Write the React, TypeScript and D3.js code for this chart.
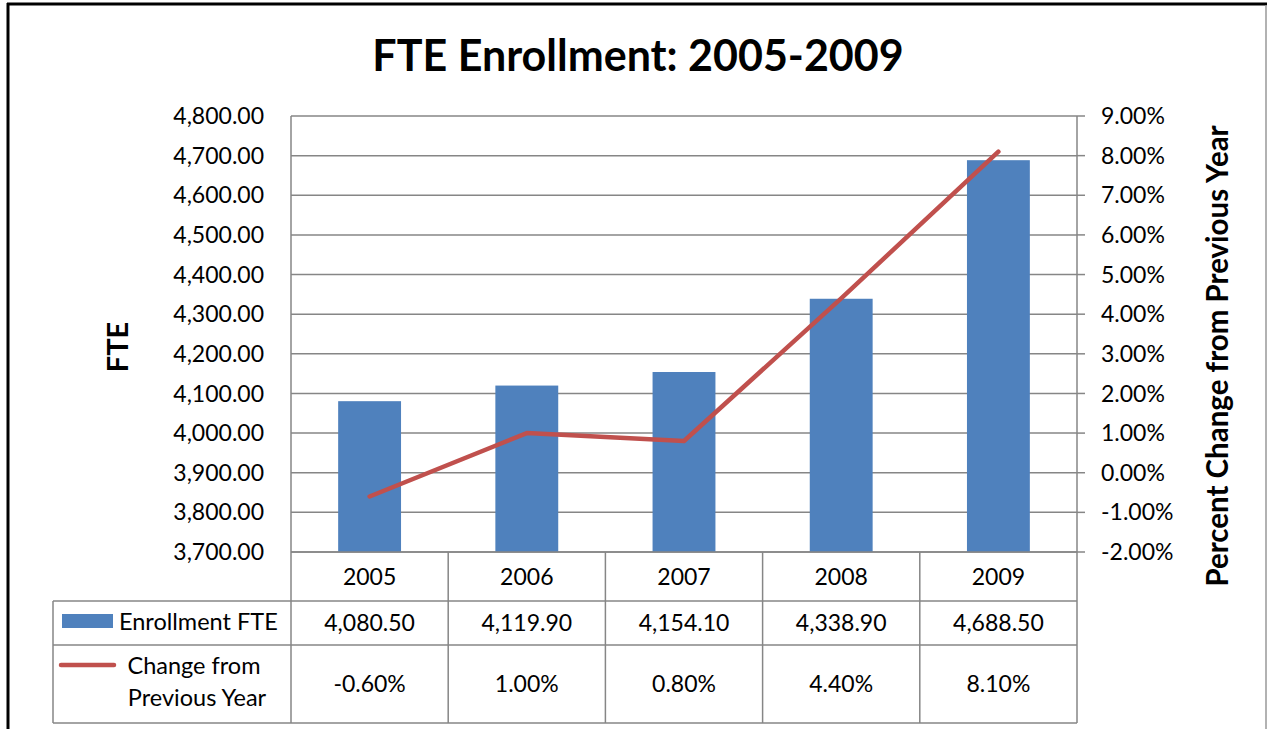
import React from "react";
import * as d3 from "d3";

const years = ["2005", "2006", "2007", "2008", "2009"];
const enrollment = [4080.5, 4119.9, 4154.1, 4338.9, 4688.5];
const pctChange = [-0.6, 1.0, 0.8, 4.4, 8.1];
const leftTicks = [3700, 3800, 3900, 4000, 4100, 4200, 4300, 4400, 4500, 4600, 4700, 4800];
const rightTicks = [-2, -1, 0, 1, 2, 3, 4, 5, 6, 7, 8, 9];
const seriesNames = ["Enrollment FTE", "Change from", "Previous Year"];
const title = "FTE Enrollment: 2005-2009";
const leftTitle = "FTE";
const rightTitle = "Percent Change from Previous Year";

const W = 1267;
const H = 729;
const plotL = 291, plotR = 1077, plotT = 116, plotB = 552;
const tableL = 53;
const row1B = 601, row2B = 645, row3B = 723;
const BLUE = "#4F81BD";
const RED = "#C0504D";
const GRID = "#868686";
const FONT = "Lato, 'Open Sans', sans-serif";

export default function App() {
  const x = d3.scaleBand<string>().domain(years).range([plotL, plotR]).paddingInner(0).paddingOuter(0);
  const yL = d3.scaleLinear().domain([3700, 4800]).range([plotB, plotT]);
  const yR = d3.scaleLinear().domain([-2, 9]).range([plotB, plotT]);
  const bw = x.bandwidth();
  const barW = bw * 0.4;
  const fmtL = d3.format(",.2f");
  const fmtP = (v: number) => d3.format(".2f")(v).replace("\u2212", "-") + "%";
  const line = d3
    .line<number>()
    .x((_, i) => (x(years[i]) as number) + bw / 2)
    .y((d) => yR(d));

  const fs = 23;

  return (
    <svg width={W} height={H} style={{ position: "absolute", left: 0, top: 0, background: "#fff" }} fontFamily={FONT}>
      <rect x={0} y={0} width={W} height={H} fill="#fff" />
      {/* frame */}
      <line x1={8} y1={3} x2={8} y2={H} stroke="#000" strokeWidth={3} />
      <line x1={7} y1={4} x2={W} y2={4} stroke="#000" strokeWidth={3} />
      <line x1={1266} y1={5} x2={1266} y2={H} stroke="#999" strokeWidth={1.5} />

      <text x={638} y={71} textAnchor="middle" fontSize={43} fontWeight="bold" fill="#000">{title}</text>

      {/* gridlines */}
      {leftTicks.map((t) => (
        <line key={"g" + t} x1={plotL} x2={plotR} y1={yL(t)} y2={yL(t)} stroke={GRID} strokeWidth={1.5} />
      ))}
      {rightTicks.map((t) => (
        <line key={"rt" + t} x1={plotR} x2={plotR + 8} y1={yR(t)} y2={yR(t)} stroke={GRID} strokeWidth={1.5} />
      ))}
      <line x1={plotL} x2={plotL} y1={plotT} y2={row3B} stroke={GRID} strokeWidth={1.5} />
      <line x1={plotR} x2={plotR} y1={plotT} y2={row3B} stroke={GRID} strokeWidth={1.5} />

      {/* bars */}
      {enrollment.map((v, i) => (
        <rect key={"b" + i} x={(x(years[i]) as number) + bw / 2 - barW / 2} y={yL(v)} width={barW} height={plotB - yL(v)} fill={BLUE} />
      ))}

      {/* line */}
      <path d={line(pctChange) || ""} fill="none" stroke={RED} strokeWidth={4.5} strokeLinejoin="round" strokeLinecap="round" />

      {/* tick labels */}
      {leftTicks.map((t) => (
        <text key={"l" + t} x={264} y={yL(t)} dy="0.35em" textAnchor="end" fontSize={fs} fill="#000">{fmtL(t)}</text>
      ))}
      {rightTicks.map((t) => (
        <text key={"r" + t} x={1101} y={yR(t)} dy="0.35em" textAnchor="start" fontSize={fs} fill="#000">{fmtP(t)}</text>
      ))}

      <text transform={`translate(128,347) rotate(-90)`} textAnchor="middle" fontSize={29} fontWeight="bold" fill="#000">{leftTitle}</text>
      <text transform={`translate(1228,356) rotate(-90)`} textAnchor="middle" fontSize={29.5} fontWeight="bold" fill="#000">{rightTitle}</text>

      {/* table */}
      <line x1={plotL} x2={plotR} y1={plotB} y2={plotB} stroke={GRID} strokeWidth={1.5} />
      <line x1={tableL} x2={plotR} y1={row1B} y2={row1B} stroke={GRID} strokeWidth={1.5} />
      <line x1={tableL} x2={plotR} y1={row2B} y2={row2B} stroke={GRID} strokeWidth={1.5} />
      <line x1={tableL} x2={plotR} y1={row3B} y2={row3B} stroke={GRID} strokeWidth={1.5} />
      <line x1={tableL} x2={tableL} y1={row1B} y2={row3B} stroke={GRID} strokeWidth={1.5} />
      {years.slice(1).map((yy) => (
        <line key={"v" + yy} x1={x(yy) as number} x2={x(yy) as number} y1={plotB} y2={row3B} stroke={GRID} strokeWidth={1.5} />
      ))}
      {years.map((yy, i) => {
        const cx = (x(yy) as number) + bw / 2;
        return (
          <g key={"c" + yy}>
            <text x={cx} y={(plotB + row1B) / 2} dy="0.35em" textAnchor="middle" fontSize={fs} fill="#000">{yy}</text>
            <text x={cx} y={(row1B + row2B) / 2} dy="0.35em" textAnchor="middle" fontSize={fs} fill="#000">{fmtL(enrollment[i])}</text>
            <text x={cx} y={(row2B + row3B) / 2} dy="0.35em" textAnchor="middle" fontSize={fs} fill="#000">{fmtP(pctChange[i])}</text>
          </g>
        );
      })}
      {/* legend cells */}
      <rect x={62} y={614} width={51} height={14} fill={BLUE} />
      <text x={119} y={622} dy="0.35em" fontSize={fs + 0.5} fill="#000">{seriesNames[0]}</text>
      <line x1={61} x2={114} y1={665} y2={665} stroke={RED} strokeWidth={4.5} strokeLinecap="round" />
      <text x={194} y={666} dy="0.35em" textAnchor="middle" fontSize={fs + 0.5} fill="#000">{seriesNames[1]}</text>
      <text x={197} y={698} dy="0.35em" textAnchor="middle" fontSize={fs + 0.5} fill="#000">{seriesNames[2]}</text>
    </svg>
  );
}
